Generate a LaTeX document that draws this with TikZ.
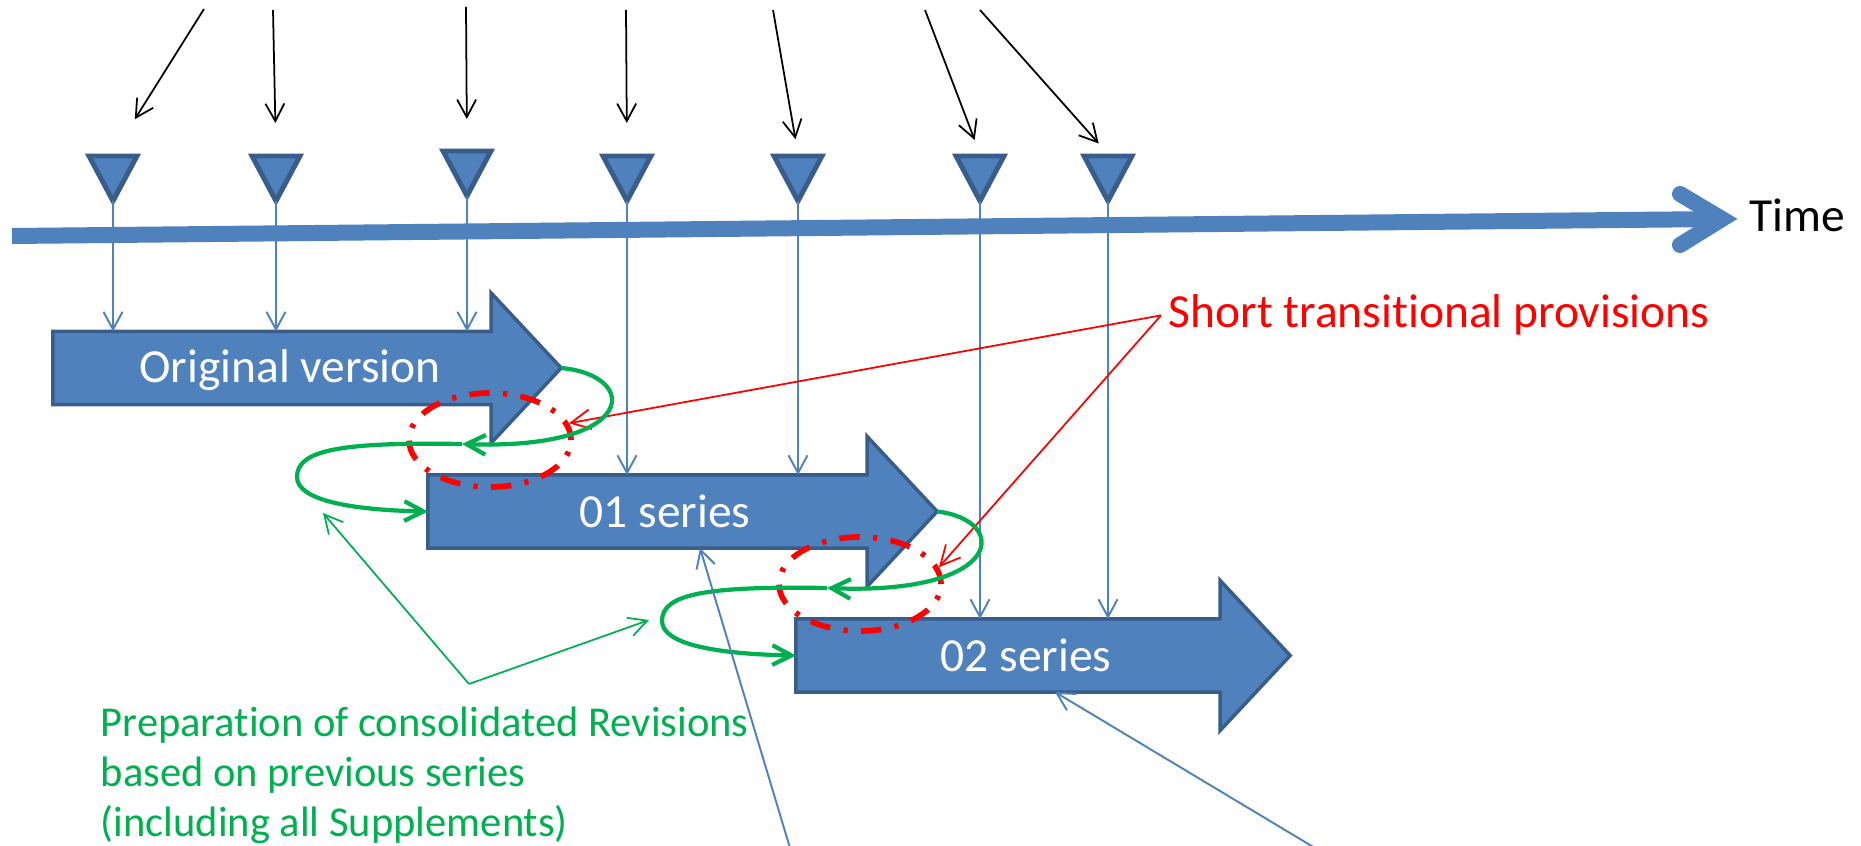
\documentclass[tikz,border=0pt]{standalone}
\usepackage{fontspec}
\setmainfont[Ligatures=NoCommon]{Carlito}
\usetikzlibrary{arrows.meta}
\usetikzlibrary{calc}
\usetikzlibrary{positioning}
\usetikzlibrary{shapes}

\definecolor{barblue}{HTML}{4F81BD}
\definecolor{bardark}{HTML}{385D8A}
\definecolor{revgreen}{HTML}{00B050}

\begin{document}
\begin{tikzpicture}[x=0.01cm,y=-0.01cm]
        \tikzset{event_edge/.style = {->,> = {Straight Barb[length=5pt,width=5.4pt]},color=black,line width=0.5pt}}
        \tikzset{apply_edge/.style = {->,> = {Straight Barb[length=5pt,width=5.4pt]},color=barblue,line width=0.55pt}}
        \tikzset{rev_edge/.style = {->,> = {Straight Barb[length=5.4pt,width=5.6pt]},color=revgreen,line width=1.2pt}}
        \tikzset{prep_edge/.style = {->,> = {Straight Barb[length=5.2pt,width=5.4pt]},color=revgreen,line width=0.5pt}}
        \tikzset{trans_edge/.style = {->,> = {Straight Barb[length=5.6pt,width=5.6pt]},color=red,line width=0.5pt}}
        \tikzset{marker/.style = {isosceles triangle,isosceles triangle stretches,shape border rotate=-90,minimum width=0.48cm,minimum height=0.45cm,inner sep=0pt,outer sep=0pt,fill=barblue,draw=bardark,line width=1.4pt,anchor=apex}}
        \tikzset{bar_body/.style = {rectangle,inner sep=0pt,outer sep=0pt,minimum height=0.73cm}}
        \tikzset{bar/.style = {fill=barblue,draw=bardark,line width=1pt,line join=miter}}
        \tikzset{bar_text/.style = {text=white,font=\fontsize{13.5}{16}\selectfont,inner sep=0pt,anchor=base}}
        \tikzset{trans/.style = {ellipse,draw=red,line width=1.6pt,dash pattern=on 5.8pt off 3.8pt on 1.2pt off 3.8pt,minimum width=1.62cm,minimum height=0.94cm,inner sep=0pt}}
        \tikzset{time_line/.style = {color=barblue,line width=4.55pt}}
        \useasboundingbox (0,0) rectangle (1861,846);

        % markers
        \node[marker] (m1) at (113,201) {};
        \node[marker] (m2) at (276,201) {};
        \node[marker] (m3) at (467,196) {};
        \node[marker] (m4) at (627,201) {};
        \node[marker] (m5) at (798,201) {};
        \node[marker] (m6) at (980,201) {};
        \node[marker] (m7) at (1108,201) {};

        % versions
        \node[bar_body,minimum width=4.38cm] (orig) at (272,368) {};
        \draw[bar] (orig.north west) -- (orig.north east) -- ++(0,-38.5) -- ++(70,75) -- ++(-70,75) -- (orig.south east) -- (orig.south west) -- cycle;
        \node[bar_text] (origtext) at (290,383) {Original version};
        \node[bar_body,minimum width=4.39cm] (s01) at (647.5,511.5) {};
        \draw[bar] (s01.north west) -- (s01.north east) -- ++(0,-38.5) -- ++(70,75) -- ++(-70,75) -- (s01.south east) -- (s01.south west) -- cycle;
        \node[bar_text] (s01text) at (665,527) {01 series};
        \node[bar_body,minimum width=4.24cm] (s02) at (1008,655.5) {};
        \draw[bar] (s02.north west) -- (s02.north east) -- ++(0,-38.5) -- ++(70,75) -- ++(-70,75) -- (s02.south east) -- (s02.south west) -- cycle;
        \node[bar_text] (s02text) at (1026,671) {02 series};

        \draw[apply_edge] (m1.apex) -- (m1.apex |- orig.north);
        \draw[apply_edge] (m2.apex) -- (m2.apex |- orig.north);
        \draw[apply_edge] (m3.apex) -- (m3.apex |- orig.north);
        \draw[apply_edge] (m4.apex) -- (m4.apex |- s01.north);
        \draw[apply_edge] (m5.apex) -- (m5.apex |- s01.north);
        \draw[apply_edge] (m6.apex) -- (m6.apex |- s02.north);
        \draw[apply_edge] (m7.apex) -- (m7.apex |- s02.north);

        % time axis
        \draw[time_line] (12,236) -- (1722,219);
        \draw[time_line,line cap=round,line join=miter] (1680,194) -- (1722,219) -- (1680,245);
        \node[anchor=base west,inner sep=0pt,font=\fontsize{13.5}{16}\selectfont] (time) at (1749,232) {Time};

        % incoming amendments
        \coordinate (in1) at (204,9);
        \coordinate (in2) at (273,10);
        \coordinate (in3) at (466,7);
        \coordinate (in4) at (626,10);
        \coordinate (in5) at (773,10);
        \coordinate (in6) at (925,10);
        \coordinate (in7) at (980,10);
        \draw[event_edge,shorten >=0.41cm] (in1) -- ($(m1.apex)+(0,-47)$);
        \draw[event_edge,shorten >=0.31cm] (in2) -- ($(m2.apex)+(0,-47)$);
        \draw[event_edge,shorten >=0.30cm] (in3) -- ($(m3.apex)+(0,-47)$);
        \draw[event_edge,shorten >=0.31cm] (in4) -- ($(m4.apex)+(0,-47)$);
        \draw[event_edge,shorten >=0.15cm] (in5) -- ($(m5.apex)+(0,-47)$);
        \draw[event_edge,shorten >=0.15cm] (in6) -- ($(m6.apex)+(0,-47)$);
        \draw[event_edge,shorten >=0.14cm] (in7) -- ($(m7.apex)+(0,-47)$);

        % transitional provisions
        \node[trans] (tr1) at (490,440) {};
        \node[trans] (tr2) at (860,584) {};
        \node[anchor=base west,inner xsep=0.07cm,inner ysep=0pt,text=red,font=\fontsize{13.5}{16}\selectfont] (stp) at (1161,328) {Short transitional provisions};
        \draw[trans_edge] (stp.west) -- (tr1.12);
        \draw[trans_edge] (stp.west) -- (tr2.12);

        % consolidated revisions
        \coordinate (origtip) at ($(orig.east)+(70,0)$);
        \coordinate (s01tip) at ($(s01.east)+(70,0)$);
        \coordinate (g1) at (462,444);
        \coordinate (g2) at (827,588);
        \draw[rev_edge] (origtip) .. controls (640,375) and (640,450) .. (g1);
        \draw[rev_edge] (g1) .. controls (340,442) and (297,450) .. (297,477) .. controls (297,500) and (350,510) .. (s01.west);
        \draw[rev_edge] (s01tip) .. controls (1010,520) and (1005,595) .. (g2);
        \draw[rev_edge] (g2) .. controls (705,586) and (662,594) .. (662,621) .. controls (662,644) and (715,654) .. (s02.west);

        \node[anchor=north west,align=left,inner sep=0pt,text=revgreen,font=\fontsize{12.1}{14.2}\selectfont] (prep) at (100,706) {Preparation of consolidated Revisions\\based on previous series\\(including all Supplements)};
        \coordinate (pv) at (469,684);
        \coordinate (loop1) at (323,513);
        \coordinate (loop2) at (649,620);
        \draw[prep_edge] (pv) -- (loop1);
        \draw[prep_edge] (pv) -- (loop2);

        % references from below
        \coordinate (low1) at (790,848);
        \coordinate (low2) at (1315,848);
        \draw[apply_edge] (low1) -- (700,0 |- s01.south);
        \draw[apply_edge] (low2) -- (1055,0 |- s02.south);
    \end{tikzpicture}
\end{document}
